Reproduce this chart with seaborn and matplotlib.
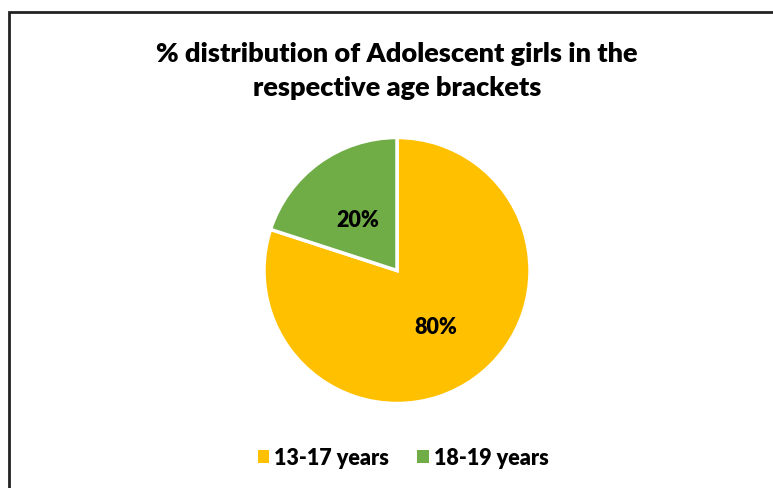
import matplotlib
matplotlib.use("Agg")
import matplotlib.pyplot as plt
import matplotlib.transforms as mtransforms
from matplotlib.patches import Rectangle, Patch
import seaborn as sns

# Age brackets and their share of adolescent girls
age_groups = ["13-17 years", "18-19 years"]
shares = [80, 20]
colors = ["#FFC000", "#70AD47"]
title_text = "% distribution of Adolescent girls in the\nrespective age brackets"

sns.set_theme(style="white")
plt.rcParams["font.family"] = ["Lato", "DejaVu Sans"]
plt.rcParams["text.color"] = "black"

W, H = 773, 489
fig = plt.figure(figsize=(W / 100, H / 100), dpi=100)
fig.patch.set_facecolor("white")

# chart frame, open at right and bottom edges
fig.add_artist(Rectangle((8.5 / W, -0.05), 1.2, (H - 12.5) / H + 0.05,
                         transform=fig.transFigure, fill=False,
                         edgecolor="#222222", linewidth=2.0))

# pie area: centre (397, 271.5), radius ~133 px
r = 133
cx, cy = 397, 271.5
ax = fig.add_axes([(cx - r) / W, (H - cy - r) / H, 2 * r / W, 2 * r / H])
wedges, texts = ax.pie(
    shares, colors=colors, startangle=90, counterclock=False,
    labels=[f"{v}%" for v in shares], labeldistance=0.5,
    wedgeprops=dict(edgecolor="white", linewidth=2.5),
    textprops=dict(fontsize=15.5, fontweight="heavy", color="black", ha="center", va="center"),
)
# nudge the percentage labels slightly downward
for t in texts:
    t.set_transform(mtransforms.offset_copy(t.get_transform(), fig=fig, x=0, y=-2.5, units="dots"))
ax.set_xlim(-1, 1)
ax.set_ylim(-1, 1)
ax.set_aspect("equal")
ax.axis("off")

fig.text(cx / W, 1 - 71 / H, title_text, ha="center", va="center",
         fontsize=19.5, fontweight="heavy", color="black", linespacing=1.55)

handles = [Patch(facecolor=c, edgecolor="none") for c in colors]
leg = fig.legend(handles, age_groups, loc="center", bbox_to_anchor=(403 / W, 1 - 459 / H),
                 ncol=2, frameon=False, prop=dict(family=["Lato"], weight="heavy", size=15.5),
                 handlelength=0.55, handleheight=0.55, handletextpad=0.22, columnspacing=1.3)
for t in leg.get_texts():
    t.set_color("black")

fig.savefig("out.png", dpi=100, facecolor="white")
